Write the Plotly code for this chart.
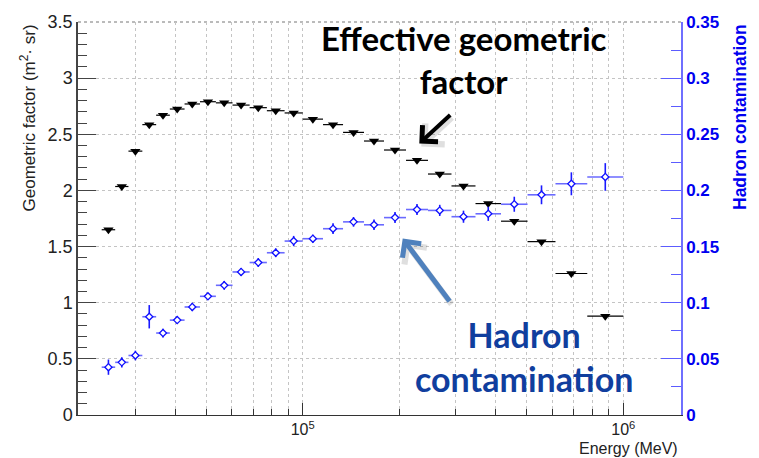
import numpy as np
import plotly.graph_objects as go

# Energy bin edges (MeV), 26 bins
bin_edges = [23600, 26000, 28600, 31600, 34900, 38500, 42800, 47800, 53600, 60400,
             68300, 77300, 87800, 100000, 115700, 133600, 155300, 179300, 210000,
             245900, 291100, 345900, 415500, 502700, 614400, 772000, 1000000]

# Effective geometric factor (m^2 sr) per bin
geo_factor = [1.65, 2.035, 2.35, 2.586, 2.67, 2.725, 2.77, 2.79, 2.78, 2.76, 2.737,
              2.71, 2.69, 2.635, 2.586, 2.517, 2.44, 2.36, 2.268, 2.146, 2.04, 1.883,
              1.726, 1.544, 1.26, 0.88]

# Hadron contamination per bin and its uncertainty
hadron = [0.0426, 0.0469, 0.053, 0.0875, 0.073, 0.0845, 0.0962, 0.1057, 0.1155,
          0.1274, 0.1358, 0.1445, 0.1549, 0.157, 0.1659, 0.172, 0.1694, 0.1758,
          0.183, 0.1822, 0.1766, 0.1792, 0.1877, 0.1961, 0.2059, 0.212]
hadron_err = [0.0068, 0.0046, 0.0043, 0.0104, 0.0039, 0.0035, 0.0037, 0.0029,
              0.0039, 0.0035, 0.0039, 0.0039, 0.0046, 0.0036, 0.0048, 0.0043,
              0.0046, 0.0049, 0.0049, 0.0050, 0.0054, 0.0063, 0.0067, 0.0084,
              0.0102, 0.0123]

x_major = [1e5, 1e6]
x_major_text = ["10<sup>5</sup>", "10<sup>6</sup>"]

lo = np.array(bin_edges[:-1], dtype=float)
hi = np.array(bin_edges[1:], dtype=float)
centers = np.sqrt(lo * hi)
err_plus = hi - centers
err_minus = centers - lo

x_minor = [m * 10 ** d for d in (4, 5) for m in range(2, 10)]

fig = go.Figure()

fig.add_trace(go.Scatter(
    x=centers, y=geo_factor, mode="markers",
    marker=dict(symbol="triangle-down", size=9, color="black"),
    error_x=dict(type="data", symmetric=False, array=err_plus, arrayminus=err_minus,
                 color="black", thickness=1.2, width=0),
    hoverinfo="skip",
))

fig.add_trace(go.Scatter(
    x=centers, y=hadron, mode="markers", yaxis="y2",
    marker=dict(symbol="diamond", size=5.5, color="white",
                line=dict(color="#1010ff", width=1.3)),
    error_x=dict(type="data", symmetric=False, array=err_plus, arrayminus=err_minus,
                 color="#6a6aff", thickness=1.6, width=0),
    error_y=dict(type="data", array=hadron_err, color="#1a1aff", thickness=1.6, width=0),
    hoverinfo="skip",
))

L, R, T, B = 78, 78, 12, 43
W, H = 759, 458
pw, ph = W - L - R, H - T - B


def px(xp):
    return (xp - L) / pw


def py(yp):
    return (H - B - yp) / ph


grid = dict(gridcolor="#c4c4c4", griddash="dot", gridwidth=1)

fig.update_layout(
    width=W, height=H,
    margin=dict(l=L, r=R, t=T, b=B),
    paper_bgcolor="white", plot_bgcolor="white",
    showlegend=False,
    font=dict(family="Liberation Sans, Arial", color="#222"),
    xaxis=dict(
        type="log", range=[4.299, 6.18],
        tickmode="array", tickvals=x_major, ticktext=x_major_text,
        ticks="inside", ticklen=12, tickcolor="#333", tickwidth=1,
        showline=True, linecolor="#333", linewidth=1.2,
        showgrid=True, **grid, zeroline=False,
        tickfont=dict(size=16, color="#222"),
        minor=dict(tickmode="array", tickvals=x_minor, ticks="inside", ticklen=6,
                   tickcolor="#333", showgrid=True, **grid),
    ),
    yaxis=dict(
        range=[0, 3.5], dtick=0.5, tick0=0,
        ticks="inside", ticklen=18, tickcolor="#444", tickwidth=1.2,
        showline=True, linecolor="#444", linewidth=1.5,
        showgrid=True, **grid, zeroline=False,
        tickfont=dict(size=18, color="#222"),
        minor=dict(dtick=0.1, ticks="inside", ticklen=9, tickcolor="#444",
                   showgrid=False),
    ),
    yaxis2=dict(
        overlaying="y", side="right", anchor="x",
        range=[0, 0.35], dtick=0.05, tick0=0,
        ticks="inside", ticklen=20, tickcolor="#5c5cff", tickwidth=1.2,
        showline=True, linecolor="#6f6fff", linewidth=1.5,
        showgrid=False, zeroline=False,
        tickfont=dict(size=17, color="#0000f0", weight="bold"),
        minor=dict(dtick=0.025, ticks="inside", ticklen=10, tickcolor="#5c5cff"),
    ),
)

# dotted frame line along the top of the plotting area
fig.add_shape(type="line", xref="paper", yref="paper", x0=0, x1=1, y0=1, y1=1,
              line=dict(color="#777", width=1, dash="dot"), layer="below")

annotations = [
    # axis titles
    dict(text="Geometric factor (m<sup>2</sup>· sr)", x=px(28), y=py(13),
         xref="paper", yref="paper", xanchor="center", yanchor="top",
         textangle=-90, showarrow=False, font=dict(size=17, color="#222")),
    dict(text="Hadron contamination", x=px(740), y=py(12),
         xref="paper", yref="paper", xanchor="center", yanchor="top",
         textangle=-90, showarrow=False,
         font=dict(size=17.5, color="#0000f0", weight="bold")),
    dict(text="Energy (MeV)", x=px(680), y=py(449),
         xref="paper", yref="paper", xanchor="right", yanchor="middle",
         showarrow=False, font=dict(size=16, color="#222")),
    # callout labels
    dict(text="Effective geometric<br>factor", x=px(464), y=py(50),
         xref="paper", yref="paper", xanchor="center", yanchor="middle",
         showarrow=False, font=dict(family="Lato", size=33, color="black", weight="bold")),
    dict(text="Hadron<br>contamination", x=px(524), y=py(355),
         xref="paper", yref="paper", xanchor="center", yanchor="middle",
         showarrow=False, font=dict(family="Lato", size=34, color="#103e9e", weight="bold")),
]

# arrows: soft shadow first, then the arrow itself
arrows = [
    ((419.3, 136.7), (451.7, 106.7), "black", 4, 1.1),
    ((402.7, 234.0), (450.7, 298.3), "#4f81bd", 5, 0.9),
]
for (tx, ty), (sx, sy), col, wid, size in arrows:
    annotations.append(dict(
        text="", x=px(tx + 2), y=py(ty + 3), xref="paper", yref="paper",
        ax=sx - tx, ay=sy - ty, showarrow=True, arrowhead=4, arrowsize=size,
        arrowwidth=wid + 1, arrowcolor="rgba(0,0,0,0.12)", standoff=0))
    annotations.append(dict(
        text="", x=px(tx), y=py(ty), xref="paper", yref="paper",
        ax=sx - tx, ay=sy - ty, showarrow=True, arrowhead=4, arrowsize=size,
        arrowwidth=wid, arrowcolor=col, standoff=0))

fig.update_layout(annotations=annotations)

fig.write_html("out.html")
